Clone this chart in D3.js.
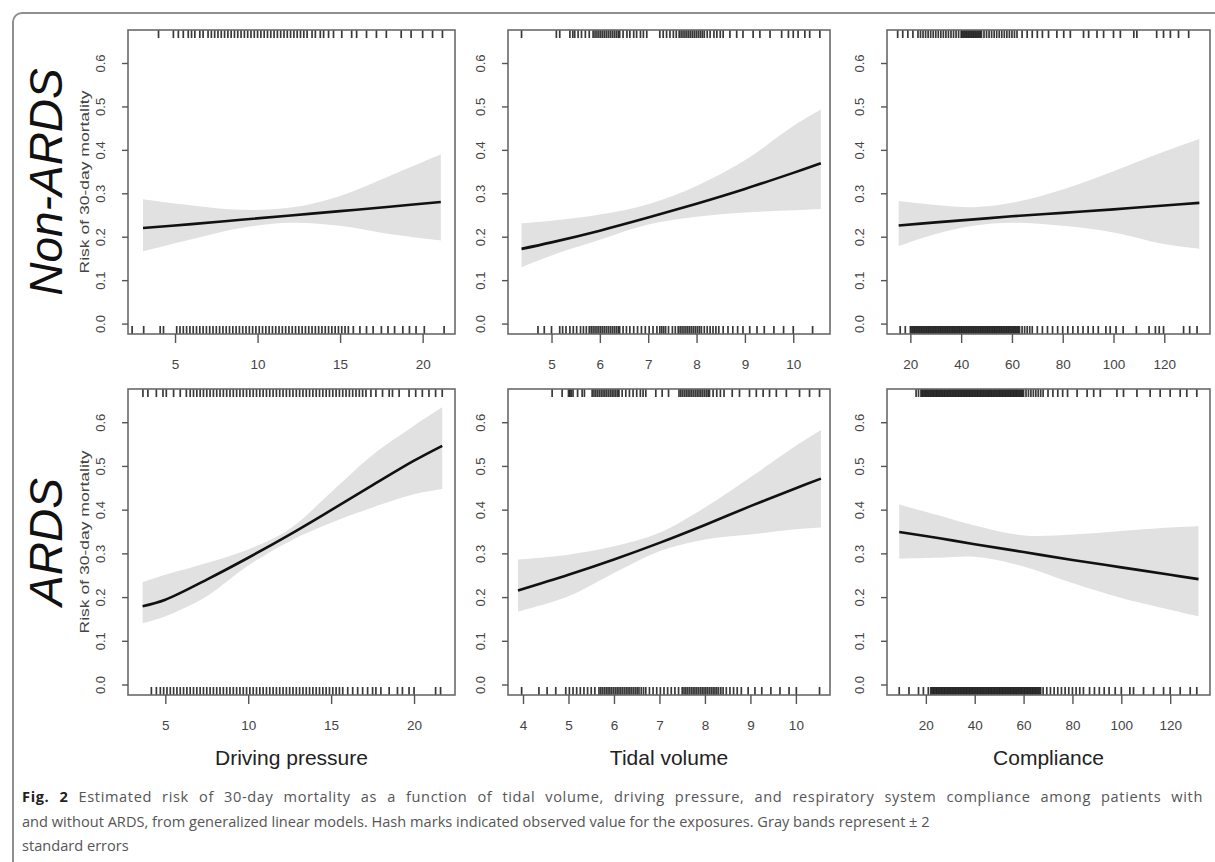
<!DOCTYPE html>
<html>
<head>
<meta charset="utf-8">
<script src="https://cdn.jsdelivr.net/npm/d3@7"></script>
<style>
  html, body { margin: 0; padding: 0; background: #fff; }
  svg { display: block; }
</style>
</head>
<body>
<svg id="fig" width="1215" height="862"></svg>
<script>
// ---------- labels and ticks ----------
const rowLabels = ["Non-ARDS", "ARDS"];
const colLabels = ["Driving pressure", "Tidal volume", "Compliance"];
const yTitle = "Risk of 30-day mortality";
const yTicks = [0, 0.1, 0.2, 0.3, 0.4, 0.5, 0.6];
const dpTicks = [5, 10, 15, 20];
const tvTicksNonArds = [5, 6, 7, 8, 9, 10];
const tvTicksArds = [4, 5, 6, 7, 8, 9, 10];
const cTicks = [20, 40, 60, 80, 100, 120];
const captionLines = [
  ["Fig. 2", " Estimated risk of 30-day mortality as a function of tidal volume, driving pressure, and respiratory system compliance among patients with"],
  ["", "and without ARDS, from generalized linear models. Hash marks indicated observed value for the exposures. Gray bands represent \u00b1 2"],
  ["", "standard errors"]
];

// ---------- fitted risk with +/- 2 SE bands ----------
// Non-ARDS, driving pressure
const dpNonArdsX   = [3.06, 6, 9, 12, 15, 18, 21.1];
const dpNonArdsFit = [0.220, 0.229, 0.239, 0.249, 0.259, 0.269, 0.280];
const dpNonArdsLo  = [0.166, 0.194, 0.220, 0.232, 0.225, 0.206, 0.191];
const dpNonArdsHi  = [0.286, 0.272, 0.262, 0.267, 0.294, 0.340, 0.390];
// Non-ARDS, tidal volume
const tvNonArdsX   = [4.38, 5, 6, 7, 8, 9, 10, 10.57];
const tvNonArdsFit = [0.172, 0.187, 0.214, 0.244, 0.276, 0.310, 0.347, 0.369];
const tvNonArdsLo  = [0.130, 0.157, 0.193, 0.228, 0.246, 0.256, 0.261, 0.264];
const tvNonArdsHi  = [0.231, 0.237, 0.251, 0.275, 0.317, 0.376, 0.455, 0.493];
// Non-ARDS, compliance
const cNonArdsX    = [15.4, 30, 45, 60, 80, 100, 120, 133.8];
const cNonArdsFit  = [0.226, 0.233, 0.240, 0.247, 0.255, 0.263, 0.272, 0.278];
const cNonArdsLo   = [0.178, 0.206, 0.225, 0.232, 0.225, 0.210, 0.183, 0.172];
const cNonArdsHi   = [0.282, 0.273, 0.268, 0.278, 0.309, 0.351, 0.396, 0.425];
// ARDS, driving pressure
const dpArdsX      = [3.63, 5, 7.5, 10, 12.5, 15, 17.5, 20, 21.7];
const dpArdsFit    = [0.179, 0.194, 0.240, 0.290, 0.343, 0.399, 0.456, 0.512, 0.546];
const dpArdsLo     = [0.140, 0.156, 0.202, 0.272, 0.328, 0.370, 0.405, 0.435, 0.447];
const dpArdsHi     = [0.234, 0.251, 0.278, 0.309, 0.356, 0.440, 0.525, 0.592, 0.634];
// ARDS, tidal volume
const tvArdsX      = [3.89, 5, 6, 7, 8, 9, 10, 10.55];
const tvArdsFit    = [0.215, 0.251, 0.286, 0.324, 0.365, 0.408, 0.449, 0.471];
const tvArdsLo     = [0.167, 0.202, 0.255, 0.305, 0.332, 0.343, 0.355, 0.359];
const tvArdsHi     = [0.286, 0.297, 0.316, 0.347, 0.405, 0.474, 0.546, 0.582];
// ARDS, compliance
const cArdsX       = [9.1, 25, 40, 60, 80, 100, 120, 131.6];
const cArdsFit     = [0.349, 0.335, 0.321, 0.303, 0.285, 0.268, 0.251, 0.241];
const cArdsLo      = [0.288, 0.290, 0.292, 0.270, 0.232, 0.198, 0.171, 0.156];
const cArdsHi      = [0.412, 0.387, 0.364, 0.341, 0.343, 0.351, 0.359, 0.362];

// ---------- observed exposures (hash marks): died on top, survived on bottom ----------
const dpNonArdsDied = [4.0, 4.9, 5.2, 5.5, 5.8, 6.0, 6.2, 6.5, 6.7, 7.0, 7.2, 7.4, 7.6, 7.8, 8.0, 8.2, 8.4, 8.6, 8.8,
  9.0, 9.2, 9.4, 9.6, 9.8, 10.0, 10.2, 10.4, 10.6, 10.8, 11.0, 11.2, 11.4, 11.6, 11.8, 12.0, 12.2, 12.4, 12.6, 12.8,
  13.0, 13.3, 13.5, 13.8, 14.0, 14.3, 14.6, 15.1, 15.7, 16.0, 16.6, 17.2, 17.8, 18.7, 19.3, 20.0, 20.6, 21.2];
const dpNonArdsSurv = [2.4, 3.1, 4.1, 4.3, 5.1, 5.3, 5.5, 5.7, 5.9, 6.1, 6.3, 6.5, 6.7, 6.9, 7.1, 7.3, 7.5, 7.7, 7.9,
  8.1, 8.3, 8.5, 8.7, 8.9, 9.1, 9.3, 9.5, 9.7, 9.9, 10.1, 10.3, 10.5, 10.7, 10.9, 11.1, 11.3, 11.5, 11.7, 11.9, 12.1,
  12.3, 12.5, 12.7, 12.9, 13.1, 13.3, 13.5, 13.7, 13.9, 14.1, 14.3, 14.5, 14.7, 14.9, 15.1, 15.3, 15.5, 15.8, 16.2,
  16.6, 17.0, 17.5, 17.9, 18.3, 18.8, 19.2, 19.6, 20.1, 21.3];
const tvNonArdsDied = [4.38, 5.10, 5.17, 5.38, 5.44, 5.48, 5.55, 5.62, 5.70, 5.78, 5.86, 5.90, 5.94, 5.98, 6.02, 6.06,
  6.10, 6.14, 6.18, 6.22, 6.26, 6.30, 6.34, 6.38, 6.41, 6.48, 6.56, 6.62, 6.70, 6.76, 6.84, 6.90, 6.97, 7.24, 7.31,
  7.38, 7.45, 7.52, 7.58, 7.64, 7.68, 7.72, 7.76, 7.80, 7.84, 7.88, 7.92, 7.96, 8.00, 8.04, 8.08, 8.12, 8.16, 8.22,
  8.28, 8.36, 8.42, 8.49, 8.55, 8.69, 8.83, 8.96, 9.17, 9.31, 9.52, 9.76, 9.90, 10.00, 10.10, 10.24, 10.34, 10.55];
const tvNonArdsSurv = [4.72, 4.85, 5.00, 5.17, 5.23, 5.30, 5.38, 5.45, 5.52, 5.60, 5.66, 5.72, 5.78, 5.82, 5.86, 5.90,
  5.94, 5.98, 6.02, 6.06, 6.10, 6.14, 6.18, 6.22, 6.26, 6.30, 6.34, 6.38, 6.41, 6.48, 6.55, 6.62, 6.70, 6.78, 6.86,
  6.94, 7.02, 7.10, 7.18, 7.24, 7.28, 7.32, 7.36, 7.42, 7.50, 7.56, 7.62, 7.66, 7.70, 7.74, 7.78, 7.82, 7.86, 7.90,
  7.94, 7.98, 8.02, 8.06, 8.10, 8.16, 8.22, 8.28, 8.34, 8.40, 8.46, 8.55, 8.65, 8.75, 8.85, 8.96, 9.10, 9.25, 9.40,
  9.60, 9.80, 10.00, 10.40];
const cNonArdsDied = [15, 17, 19, 21, 23, 24, 25, 26, 27, 28, 29, 30, 31, 32, 33, 34, 35, 36, 37, 38, 39, 40, 40.5,
  41, 41.5, 42, 42.5, 43, 43.5, 44, 44.5, 45, 45.5, 46, 46.5, 47, 47.5, 48, 49, 50, 51, 52, 53, 54, 55, 56, 57, 58,
  59, 60, 61, 62, 64, 66, 68, 70, 72, 74.4, 77.7, 80.4, 83, 88.2, 90.2, 93.5, 96.1, 100, 102.7, 108, 109.2, 117,
  119.7, 122.4, 125.6, 129.6];
const cNonArdsSurv = [16, 18, 20, 20.5, 21, 21.5, 22, 22.5, 23, 23.5, 24, 24.5, 25, 25.5, 26, 26.5, 27, 27.5, 28, 28.5,
  29, 29.5, 30, 30.5, 31, 31.5, 32, 32.5, 33, 33.5, 34, 34.5, 35, 35.5, 36, 36.5, 37, 37.5, 38, 38.5, 39, 39.5, 40,
  40.5, 41, 41.5, 42, 42.5, 43, 43.5, 44, 44.5, 45, 45.5, 46, 46.5, 47, 47.5, 48, 48.5, 49, 49.5, 50, 50.5, 51, 51.5,
  52, 52.5, 53, 53.5, 54, 54.5, 55, 55.5, 56, 56.5, 57, 57.5, 58, 58.5, 59, 59.5, 60, 60.5, 61, 61.5, 62, 62.5, 63,
  64, 65, 66, 67, 68, 70, 72, 74, 76, 78, 80, 82, 84, 86, 88, 90, 92, 94, 97, 98.7, 101, 103.8, 109, 114, 116.5, 118,
  119.7, 127.6, 130, 132.9];
const dpArdsDied = [3.65, 3.95, 4.46, 4.86, 5.06, 5.5, 5.9, 6.27, 6.5, 6.7, 6.9, 7.1, 7.3, 7.5, 7.7, 7.9, 8.1, 8.3, 8.5,
  8.7, 8.9, 9.1, 9.3, 9.5, 9.7, 9.9, 10.1, 10.3, 10.5, 10.7, 10.9, 11.1, 11.3, 11.5, 11.7, 11.9, 12.1, 12.3, 12.5,
  12.7, 12.9, 13.1, 13.3, 13.5, 13.7, 13.9, 14.1, 14.3, 14.5, 14.7, 14.9, 15.1, 15.3, 15.5, 15.7, 15.9, 16.1, 16.3,
  16.5, 16.7, 16.9, 17.1, 17.4, 17.7, 18.1, 18.5, 18.7, 19.1, 19.7, 20.1, 20.5, 20.9, 21.3, 21.7];
const dpArdsSurv = [4.16, 4.46, 4.7, 4.9, 5.1, 5.3, 5.5, 5.7, 5.9, 6.1, 6.3, 6.5, 6.7, 6.9, 7.1, 7.3, 7.5, 7.7, 7.9,
  8.1, 8.3, 8.5, 8.7, 8.9, 9.1, 9.3, 9.5, 9.7, 9.9, 10.1, 10.3, 10.5, 10.7, 10.9, 11.1, 11.3, 11.5, 11.7, 11.9, 12.1,
  12.3, 12.5, 12.7, 12.9, 13.1, 13.3, 13.5, 13.7, 13.9, 14.1, 14.3, 14.5, 14.7, 14.9, 15.1, 15.3, 15.5, 15.7, 16.0,
  16.3, 16.6, 16.9, 17.2, 17.5, 17.7, 18.0, 18.5, 19.0, 19.3, 19.7, 20.0, 21.3, 21.6];
const tvArdsDied = [4.64, 4.86, 5.0, 5.03, 5.06, 5.1, 5.2, 5.3, 5.35, 5.52, 5.56, 5.6, 5.64, 5.68, 5.72, 5.76, 5.8,
  5.84, 5.88, 5.92, 5.96, 6.0, 6.04, 6.08, 6.11, 6.18, 6.26, 6.34, 6.42, 6.5, 6.58, 6.64, 6.7, 6.92, 7.06, 7.2, 7.43,
  7.47, 7.51, 7.55, 7.59, 7.63, 7.67, 7.71, 7.75, 7.79, 7.83, 7.87, 7.91, 7.95, 7.99, 8.03, 8.07, 8.1, 8.18, 8.26,
  8.34, 8.42, 8.6, 8.76, 8.98, 9.13, 9.28, 9.42, 9.57, 9.79, 10.08, 10.3, 10.52];
const tvArdsSurv = [3.97, 4.35, 4.53, 4.72, 4.94, 5.02, 5.10, 5.18, 5.26, 5.34, 5.42, 5.50, 5.58, 5.67, 5.71, 5.75,
  5.79, 5.83, 5.87, 5.91, 5.95, 5.99, 6.03, 6.07, 6.11, 6.15, 6.19, 6.23, 6.27, 6.31, 6.35, 6.39, 6.43, 6.47, 6.51,
  6.55, 6.6, 6.65, 6.7, 6.78, 6.86, 6.94, 7.02, 7.10, 7.18, 7.26, 7.34, 7.42, 7.50, 7.54, 7.58, 7.62, 7.66, 7.70,
  7.74, 7.78, 7.82, 7.86, 7.90, 7.94, 7.98, 8.02, 8.06, 8.10, 8.14, 8.18, 8.22, 8.26, 8.30, 8.35, 8.40, 8.47, 8.55,
  8.63, 8.71, 8.80, 8.95, 9.10, 9.25, 9.45, 9.65, 9.85, 10.01, 10.52];
const cArdsDied = [16, 17, 18, 18.5, 19, 19.5, 20, 20.5, 21, 21.5, 22, 22.5, 23, 23.5, 24, 24.5, 25, 25.5, 26, 26.5,
  27, 27.5, 28, 28.5, 29, 29.5, 30, 30.5, 31, 31.5, 32, 32.5, 33, 33.5, 34, 34.5, 35, 35.5, 36, 36.5, 37, 37.5, 38,
  38.5, 39, 39.5, 40, 40.5, 41, 41.5, 42, 42.5, 43, 43.5, 44, 44.5, 45, 45.5, 46, 46.5, 47, 47.5, 48, 48.5, 49, 49.5,
  50, 50.5, 51, 51.5, 52, 52.5, 53, 53.5, 54, 54.5, 55, 55.5, 56, 56.5, 57, 57.5, 58, 58.5, 59, 59.5, 60, 61, 62, 63,
  64, 65, 66, 67, 68, 70, 72, 74, 76, 78, 81.9, 86, 88.7, 91.4, 98.2, 100.9, 106.4, 111.8, 115.9, 120, 124.1, 126.8,
  130.9];
const cArdsSurv = [9.1, 13.1, 17, 19, 21, 22, 22.5, 23, 23.5, 24, 24.5, 25, 25.5, 26, 26.5, 27, 27.5, 28, 28.5, 29,
  29.5, 30, 30.5, 31, 31.5, 32, 32.5, 33, 33.5, 34, 34.5, 35, 35.5, 36, 36.5, 37, 37.5, 38, 38.5, 39, 39.5, 40, 40.5,
  41, 41.5, 42, 42.5, 43, 43.5, 44, 44.5, 45, 45.5, 46, 46.5, 47, 47.5, 48, 48.5, 49, 49.5, 50, 50.5, 51, 51.5, 52,
  52.5, 53, 53.5, 54, 54.5, 55, 55.5, 56, 56.5, 57, 57.5, 58, 58.5, 59, 59.5, 60, 60.5, 61, 61.5, 62, 62.5, 63, 63.5,
  64, 64.5, 65, 65.5, 66, 66.5, 67, 68, 69.5, 71, 72.5, 74, 75.5, 77, 78.5, 80, 81.5, 83, 84.5, 87, 89, 91, 93, 95,
  97.5, 100, 103.5, 105, 109.1, 113.2, 117.3, 120, 124.1, 128.2, 130.9];

// ---------- panel assembly ----------
const panels = [
  { row: 0, col: 0, xLim: [2.15, 21.96], ticks: dpTicks,        x: dpNonArdsX, fit: dpNonArdsFit, lo: dpNonArdsLo, hi: dpNonArdsHi, died: dpNonArdsDied, surv: dpNonArdsSurv },
  { row: 0, col: 1, xLim: [4.10, 10.76], ticks: tvTicksNonArds, x: tvNonArdsX, fit: tvNonArdsFit, lo: tvNonArdsLo, hi: tvNonArdsHi, died: tvNonArdsDied, surv: tvNonArdsSurv },
  { row: 0, col: 2, xLim: [10.8, 138.0], ticks: cTicks,         x: cNonArdsX,  fit: cNonArdsFit,  lo: cNonArdsLo,  hi: cNonArdsHi,  died: cNonArdsDied,  surv: cNonArdsSurv },
  { row: 1, col: 0, xLim: [2.75, 22.47], ticks: dpTicks,        x: dpArdsX,    fit: dpArdsFit,    lo: dpArdsLo,    hi: dpArdsHi,    died: dpArdsDied,    surv: dpArdsSurv },
  { row: 1, col: 1, xLim: [3.67, 10.75], ticks: tvTicksArds,    x: tvArdsX,    fit: tvArdsFit,    lo: tvArdsLo,    hi: tvArdsHi,    died: tvArdsDied,    surv: tvArdsSurv },
  { row: 1, col: 2, xLim: [4.1, 136.3],  ticks: cTicks,         x: cArdsX,     fit: cArdsFit,     lo: cArdsLo,     hi: cArdsHi,     died: cArdsDied,     surv: cArdsSurv }
];

// ---------- layout ----------
const colBox = [[128, 455], [508, 830], [887, 1210]];
const rowBox = [[30, 334], [389, 695]];
const yLim = [-0.024, 0.676];
const axisFont = "'Liberation Sans', Arial, Helvetica, sans-serif";
const smooth = d3.curveCatmullRom.alpha(0.5);

const svg = d3.select("#fig");

// outer figure frame
svg.append("rect")
  .attr("x", 13).attr("y", 13)
  .attr("width", 1230).attr("height", 880)
  .attr("rx", 9).attr("ry", 9)
  .attr("fill", "none")
  .attr("stroke", "#8f8f8f")
  .attr("stroke-width", 2);

panels.forEach(p => {
  const [x0, x1] = colBox[p.col];
  const [y0, y1] = rowBox[p.row];
  const xs = d3.scaleLinear().domain(p.xLim).range([x0, x1]);
  const ys = d3.scaleLinear().domain(yLim).range([y1, y0]);
  const pts = p.x.map((v, i) => ({ x: v, fit: p.fit[i], lo: p.lo[i], hi: p.hi[i] }));
  const g = svg.append("g");

  // +/- 2 SE band
  g.append("path")
    .datum(pts)
    .attr("fill", "#e1e1e1")
    .attr("d", d3.area()
      .x(d => xs(d.x)).y0(d => ys(d.lo)).y1(d => ys(d.hi))
      .curve(smooth));

  // fitted risk
  g.append("path")
    .datum(pts)
    .attr("fill", "none")
    .attr("stroke", "#111")
    .attr("stroke-width", 2.6)
    .attr("d", d3.line().x(d => xs(d.x)).y(d => ys(d.fit)).curve(smooth));

  // hash marks for observed exposures
  const rugLen = 8;
  const rugStyle = sel => sel
    .attr("stroke", "#000").attr("stroke-width", 1.7).attr("stroke-opacity", 0.78);
  g.append("g").selectAll("line").data(p.died).join("line")
    .attr("x1", d => xs(d)).attr("x2", d => xs(d))
    .attr("y1", y0).attr("y2", y0 + rugLen)
    .call(rugStyle);
  g.append("g").selectAll("line").data(p.surv).join("line")
    .attr("x1", d => xs(d)).attr("x2", d => xs(d))
    .attr("y1", y1).attr("y2", y1 - rugLen)
    .call(rugStyle);

  // plot box
  g.append("rect")
    .attr("x", x0).attr("y", y0)
    .attr("width", x1 - x0).attr("height", y1 - y0)
    .attr("fill", "none")
    .attr("stroke", "#6a6a6a")
    .attr("stroke-width", 1.6);

  // x axis
  const gx = g.append("g")
    .attr("transform", `translate(0,${y1})`)
    .call(d3.axisBottom(xs).tickValues(p.ticks).tickSize(9).tickSizeOuter(0).tickFormat(d3.format("d")));
  gx.select(".domain").remove();
  gx.selectAll(".tick line").attr("stroke", "#555").attr("stroke-width", 1.4);
  gx.selectAll(".tick text")
    .attr("y", 30).attr("dy", "0.35em")
    .attr("fill", "#444")
    .style("font-family", axisFont).style("font-size", "13.5px");

  // y axis with labels parallel to the axis
  const gy = g.append("g")
    .attr("transform", `translate(${x0},0)`)
    .call(d3.axisLeft(ys).tickValues(yTicks).tickSize(6).tickSizeOuter(0).tickFormat(d3.format(".1f")));
  gy.select(".domain").remove();
  gy.selectAll(".tick line").attr("stroke", "#555").attr("stroke-width", 1.4);
  gy.selectAll(".tick text")
    .attr("x", 0).attr("y", -28).attr("dy", null)
    .attr("transform", "rotate(-90)")
    .attr("text-anchor", "middle")
    .attr("dominant-baseline", "central")
    .attr("fill", "#444")
    .style("font-family", axisFont).style("font-size", "13px");

  if (p.col === 0) {
    const cy = (y0 + y1) / 2;
    // y axis title
    g.append("text")
      .attr("transform", `translate(89,${cy}) rotate(-90)`)
      .attr("text-anchor", "middle")
      .attr("fill", "#444")
      .style("font-family", axisFont).style("font-size", "13px")
      .attr("textLength", 183).attr("lengthAdjust", "spacingAndGlyphs")
      .text(yTitle);
    // row label
    g.append("text")
      .attr("transform", `translate(62,${cy}) rotate(-90)`)
      .attr("text-anchor", "middle")
      .attr("fill", "#111")
      .style("font-family", axisFont).style("font-size", "46px").style("font-style", "italic")
      .text(rowLabels[p.row]);
  }
  if (p.row === 1) {
    g.append("text")
      .attr("x", (x0 + x1) / 2).attr("y", 765)
      .attr("text-anchor", "middle")
      .attr("fill", "#222")
      .style("font-family", axisFont).style("font-size", "21px")
      .text(colLabels[p.col]);
  }
});

// caption: narrow setting of the type, first line justified to the full measure
const capBase = [802, 827, 851];
const capLeft = 22, capRight = 1203, line2Right = 930;
const capTexts = captionLines.map((ln, i) => {
  const t = svg.append("text")
    .attr("x", 0).attr("y", 0)
    .style("font-family", "'Open Sans', 'Noto Sans', sans-serif")
    .style("font-size", "14px");
  if (ln[0]) t.append("tspan").attr("font-weight", "bold").attr("fill", "#222").text(ln[0]);
  t.append("tspan").attr("fill", "#555").text(ln[1]);
  return t;
});
const squeeze = (line2Right - capLeft) / capTexts[1].node().getComputedTextLength();
capTexts.forEach((t, i) => t.attr("transform", `translate(${capLeft},${capBase[i]}) scale(${squeeze},1)`));
// justify the first line: part of the slack goes between letters, the rest between words
const full1 = captionLines[0][0] + captionLines[0][1];
const slack1 = (capRight - capLeft) / squeeze - capTexts[0].node().getComputedTextLength();
const letterGap = Math.min(0.6, slack1 * 0.45 / full1.length);
capTexts[0].style("letter-spacing", letterGap + "px");
const slackLeft = (capRight - capLeft) / squeeze - capTexts[0].node().getComputedTextLength();
const spaces1 = full1.split(" ").length - 1;
capTexts[0].style("word-spacing", (slackLeft / spaces1) + "px");
</script>
</body>
</html>
